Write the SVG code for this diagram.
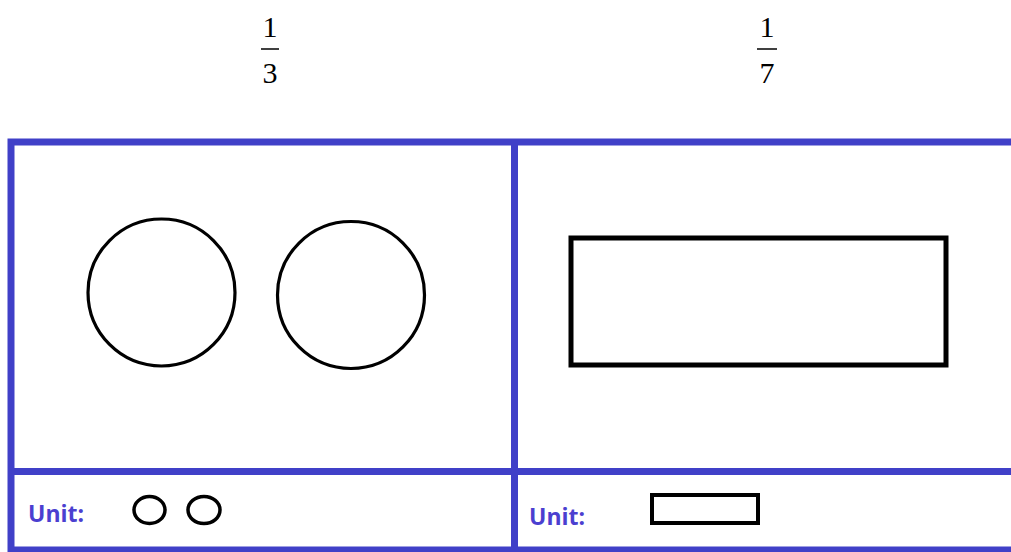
<svg xmlns="http://www.w3.org/2000/svg" width="1011" height="552" viewBox="0 0 1011 552">
<style>
.frac{font-family:"Liberation Serif","Times New Roman",serif;font-size:30px;fill:#000;text-anchor:middle}
.bar{stroke:#000;stroke-width:1.5}
.grid{stroke:#4040c8;stroke-width:7;fill:none;stroke-linecap:square}
.shape{fill:none;stroke:#000}
.unit{font-family:"Open Sans","DejaVu Sans",sans-serif;font-weight:bold;font-size:23px;fill:#4b3fd0}
</style>
<rect width="1011" height="552" fill="#fff"/>
<g id="fraction-1-3">
<text class="frac" x="270" y="37">1</text>
<line class="bar" x1="261" y1="49" x2="279" y2="49"/>
<text class="frac" x="270" y="83">3</text>
</g>
<g id="fraction-1-7">
<text class="frac" x="767" y="37">1</text>
<line class="bar" x1="757" y1="49" x2="777" y2="49"/>
<text class="frac" x="767" y="83">7</text>
</g>
<g id="connectors">
<path class="grid" d="M11,142 H1014 M11,142 V552 M514.5,142 V552 M11,471.5 H1014 M11,550 H1014"/>
</g>
<g id="circles-large">
<circle class="shape" stroke-width="3.2" cx="161.5" cy="292.5" r="73.5"/>
<circle class="shape" stroke-width="3.2" cx="351" cy="295" r="73.5"/>
</g>
<g id="rect-large">
<rect class="shape" stroke-width="5" x="571" y="238" width="375" height="127"/>
</g>
<g id="unit-left">
<text class="unit" x="28" y="522">Unit:</text>
<ellipse class="shape" stroke-width="3.5" cx="149.5" cy="510" rx="15.5" ry="13.5"/>
<ellipse class="shape" stroke-width="3.5" cx="204" cy="510" rx="16" ry="13.5"/>
</g>
<g id="unit-right">
<text class="unit" x="529" y="525">Unit:</text>
<rect class="shape" stroke-width="4" x="652" y="495" width="106" height="28"/>
</g>
</svg>
